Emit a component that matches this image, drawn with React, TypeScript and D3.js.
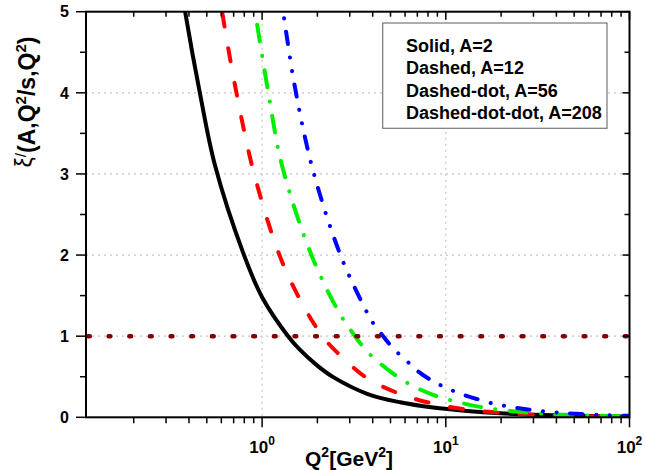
import { useEffect, useRef } from 'react';
import * as d3 from 'd3';

const width = 645;
const height = 470;

// legend entries and colours
const seriesLabels = ["Solid, A=2", "Dashed, A=12", "Dashed-dot, A=56", "Dashed-dot-dot, A=208"];
const seriesColors = ["#000000", "#ff0000", "#00ee00", "#0000ff"];
const seriesDashes = [null, "13,22", "17,14.5,0.1,14.5", "12.5,13.5,0.1,13.5,0.1,13.5"];

// Q^2 [GeV^2] and xi' values
const q2A2 = [0.36, 0.381, 0.46, 0.555, 0.788, 1.0, 1.385, 1.61, 1.99, 2.44, 3.73, 5.64, 8.53, 13.1, 19.8, 29.9, 49.9, 100];
const xiA2 = [5.36, 5.0, 3.98, 3.1, 2.03, 1.48, 1.0, 0.83, 0.64, 0.495, 0.29, 0.185, 0.12, 0.078, 0.05, 0.032, 0.018, 0.0085];

const q2A12 = [0.57, 0.621, 0.731, 0.905, 1.253, 1.672, 2.149, 2.561, 3.73, 5.64, 8.53, 13.1, 19.8, 29.9, 49.9, 100];
const xiA12 = [5.4, 4.85, 3.96, 3.0, 1.98, 1.38, 0.99, 0.80, 0.482, 0.288, 0.168, 0.096, 0.055, 0.032, 0.017, 0.007];

const q2A56 = [0.86, 0.916, 1.078, 1.285, 1.872, 2.659, 3.09, 3.46, 3.97, 4.98, 5.86, 6.81, 8.53, 10.2, 11.7, 14.8, 17.4, 22.4, 38.4, 69.2, 100];
const xiA56 = [5.4, 5.0, 4.02, 3.1, 1.98, 1.27, 1.05, 0.9, 0.75, 0.565, 0.455, 0.372, 0.276, 0.222, 0.185, 0.135, 0.108, 0.078, 0.037, 0.019, 0.011];

const q2A208 = [1.22, 1.301, 1.512, 1.895, 2.692, 3.73, 3.97, 4.56, 5.17, 6.16, 7.07, 8.53, 9.91, 11.8, 13.9, 16.8, 18.6, 23.0, 29.5, 43.5, 71.8, 100];
const xiA208 = [5.4, 5.0, 4.06, 3.04, 1.98, 1.29, 1.18, 1.0, 0.85, 0.69, 0.565, 0.443, 0.37, 0.297, 0.243, 0.188, 0.163, 0.126, 0.088, 0.054, 0.027, 0.018];

const seriesQ2 = [q2A2, q2A12, q2A56, q2A208];
const seriesXi = [xiA2, xiA12, xiA56, xiA208];

// axes
const xDomain = [0.11, 100];
const yDomain = [0, 5];
const xMajorTicks = [1, 10, 100];
const xExponents = ["0", "1", "2"];
const xMinorTicks = [0.2, 0.3, 0.4, 0.5, 0.6, 0.7, 0.8, 0.9, 2, 3, 4, 5, 6, 7, 8, 9, 20, 30, 40, 50, 60, 70, 80, 90];
const yMajorTicks = [0, 1, 2, 3, 4, 5];
const yMinorTicks = [0.5, 1.5, 2.5, 3.5, 4.5];
const xGridTicks = [1, 10];
const yGridTicks = [1, 2, 3, 4];
const referenceLevel = 1;

export default function App() {
    const ref = useRef<SVGSVGElement>(null);

    useEffect(() => {
        const svg = d3.select(ref.current);
        svg.selectAll("*").remove();

        // plot box
        const left = 86;
        const right = 629.5;
        const top = 11.7;
        const bottom = 417.3;
        const font = "'Liberation Sans', Arial, sans-serif";

        const x = d3.scaleLog().domain(xDomain).range([left, right]);
        const y = d3.scaleLinear().domain(yDomain).range([bottom, top]);

        svg.append("defs").append("clipPath")
            .attr("id", "plot-clip")
            .append("rect")
            .attr("x", left)
            .attr("y", top)
            .attr("width", right - left)
            .attr("height", bottom - top);

        // dotted grid
        const grid = svg.append("g")
            .attr("stroke", "#c4c4c4")
            .attr("stroke-width", 1.2)
            .attr("stroke-dasharray", "2,4");
        grid.selectAll(".gx").data(xGridTicks).enter()
            .append("line")
            .attr("x1", d => x(d)).attr("x2", d => x(d))
            .attr("y1", top).attr("y2", bottom);
        grid.selectAll(".gy").data(yGridTicks).enter()
            .append("line")
            .attr("x1", left).attr("x2", right)
            .attr("y1", d => y(d)).attr("y2", d => y(d));

        // curves
        const line = d3.line<[number, number]>()
            .x(d => x(d[0]))
            .y(d => y(d[1]))
            .curve(d3.curveCatmullRom.alpha(0.5));

        const curves = svg.append("g").attr("clip-path", "url(#plot-clip)");
        seriesQ2.forEach(function(q2, i) {
            const points = q2.map((q, j) => [q, seriesXi[i][j]] as [number, number]);
            const path = curves.append("path")
                .attr("d", line(points))
                .attr("fill", "none")
                .attr("stroke", seriesColors[i])
                .attr("stroke-width", 4)
                .attr("stroke-linejoin", "round")
                .attr("stroke-linecap", "round");
            if (seriesDashes[i]) {
                path.attr("stroke-dasharray", seriesDashes[i]);
            }
        });

        // reference line at xi' = 1
        svg.append("line")
            .attr("x1", left + 2)
            .attr("x2", right)
            .attr("y1", y(referenceLevel))
            .attr("y2", y(referenceLevel))
            .attr("stroke", "#800000")
            .attr("stroke-width", 4.5)
            .attr("stroke-linecap", "round")
            .attr("stroke-dasharray", "1.8,18.85");

        // frame
        svg.append("rect")
            .attr("x", left)
            .attr("y", top)
            .attr("width", right - left)
            .attr("height", bottom - top)
            .attr("fill", "none")
            .attr("stroke", "#000")
            .attr("stroke-width", 2);

        // ticks
        const ticks = svg.append("g").attr("stroke", "#000").attr("stroke-width", 1.5);
        function xTicks(values: number[], outLen: number, inLen: number) {
            ticks.selectAll(null).data(values).enter()
                .append("line")
                .attr("x1", d => x(d)).attr("x2", d => x(d))
                .attr("y1", bottom).attr("y2", bottom + outLen);
            ticks.selectAll(null).data(values).enter()
                .append("line")
                .attr("x1", d => x(d)).attr("x2", d => x(d))
                .attr("y1", top).attr("y2", top + inLen);
        }
        function yTicks(values: number[], outLen: number, inLen: number) {
            ticks.selectAll(null).data(values).enter()
                .append("line")
                .attr("x1", left - outLen).attr("x2", left)
                .attr("y1", d => y(d)).attr("y2", d => y(d));
            ticks.selectAll(null).data(values).enter()
                .append("line")
                .attr("x1", right - inLen).attr("x2", right)
                .attr("y1", d => y(d)).attr("y2", d => y(d));
        }
        xTicks(xMajorTicks, 10, 8);
        xTicks(xMinorTicks, 6, 5);
        yTicks(yMajorTicks, 10, 7);
        yTicks(yMinorTicks, 6, 5);

        // x tick labels 10^n
        xMajorTicks.forEach(function(t, i) {
            const label = svg.append("text")
                .attr("x", x(t))
                .attr("y", 453)
                .attr("text-anchor", "middle")
                .attr("font-family", font)
                .attr("font-weight", "bold")
                .attr("font-size", 17);
            label.append("tspan").text("10");
            label.append("tspan").attr("dy", -8).attr("font-size", 12).text(xExponents[i]);
        });

        // y tick labels
        svg.selectAll(".ylabel").data(yMajorTicks).enter()
            .append("text")
            .attr("x", 69)
            .attr("y", d => y(d))
            .attr("dy", "0.36em")
            .attr("text-anchor", "end")
            .attr("font-family", font)
            .attr("font-weight", "bold")
            .attr("font-size", 16)
            .text(d => d);

        // x title
        const xTitle = svg.append("text")
            .attr("x", 349)
            .attr("y", 466)
            .attr("text-anchor", "middle")
            .attr("font-family", font)
            .attr("font-weight", "bold")
            .attr("font-size", 21);
        xTitle.append("tspan").text("Q");
        xTitle.append("tspan").attr("dy", -9).attr("font-size", 14).text("2");
        xTitle.append("tspan").attr("dy", 9).text("[GeV");
        xTitle.append("tspan").attr("dy", -9).attr("font-size", 14).text("2");
        xTitle.append("tspan").attr("dy", 9).text("]");

        // y title
        const yTitle = svg.append("text")
            .attr("transform", "translate(35,102) rotate(-90)")
            .attr("text-anchor", "middle")
            .attr("font-family", font)
            .attr("font-weight", "bold")
            .attr("font-size", 23);
        yTitle.append("tspan").attr("font-weight", "normal").attr("dy", -3).text("ξ");
        yTitle.append("tspan").attr("font-weight", "normal").attr("dy", -6).attr("font-size", 15).text("/");
        yTitle.append("tspan").attr("dy", 9).text("(A,Q");
        yTitle.append("tspan").attr("dy", -9).attr("font-size", 15).text("2");
        yTitle.append("tspan").attr("dy", 9).text("/s,Q");
        yTitle.append("tspan").attr("dy", -9).attr("font-size", 15).text("2");
        yTitle.append("tspan").attr("dy", 9).text(")");

        // legend
        const legend = svg.append("g");
        legend.append("rect")
            .attr("x", 382.7)
            .attr("y", 23)
            .attr("width", 224.3)
            .attr("height", 105.3)
            .attr("fill", "#fff")
            .attr("stroke", "#777")
            .attr("stroke-width", 1.2);
        legend.selectAll("text").data(seriesLabels).enter()
            .append("text")
            .attr("x", 406)
            .attr("y", (d, i) => 51.7 + i * 22.45)
            .attr("font-family", font)
            .attr("font-weight", "bold")
            .attr("font-size", 18)
            .text(d => d);
    }, []);

    return (
        <svg ref={ref} width={width} height={height}
            style={{ position: "absolute", left: 0, top: 0, background: "#fff" }} />
    );
}
